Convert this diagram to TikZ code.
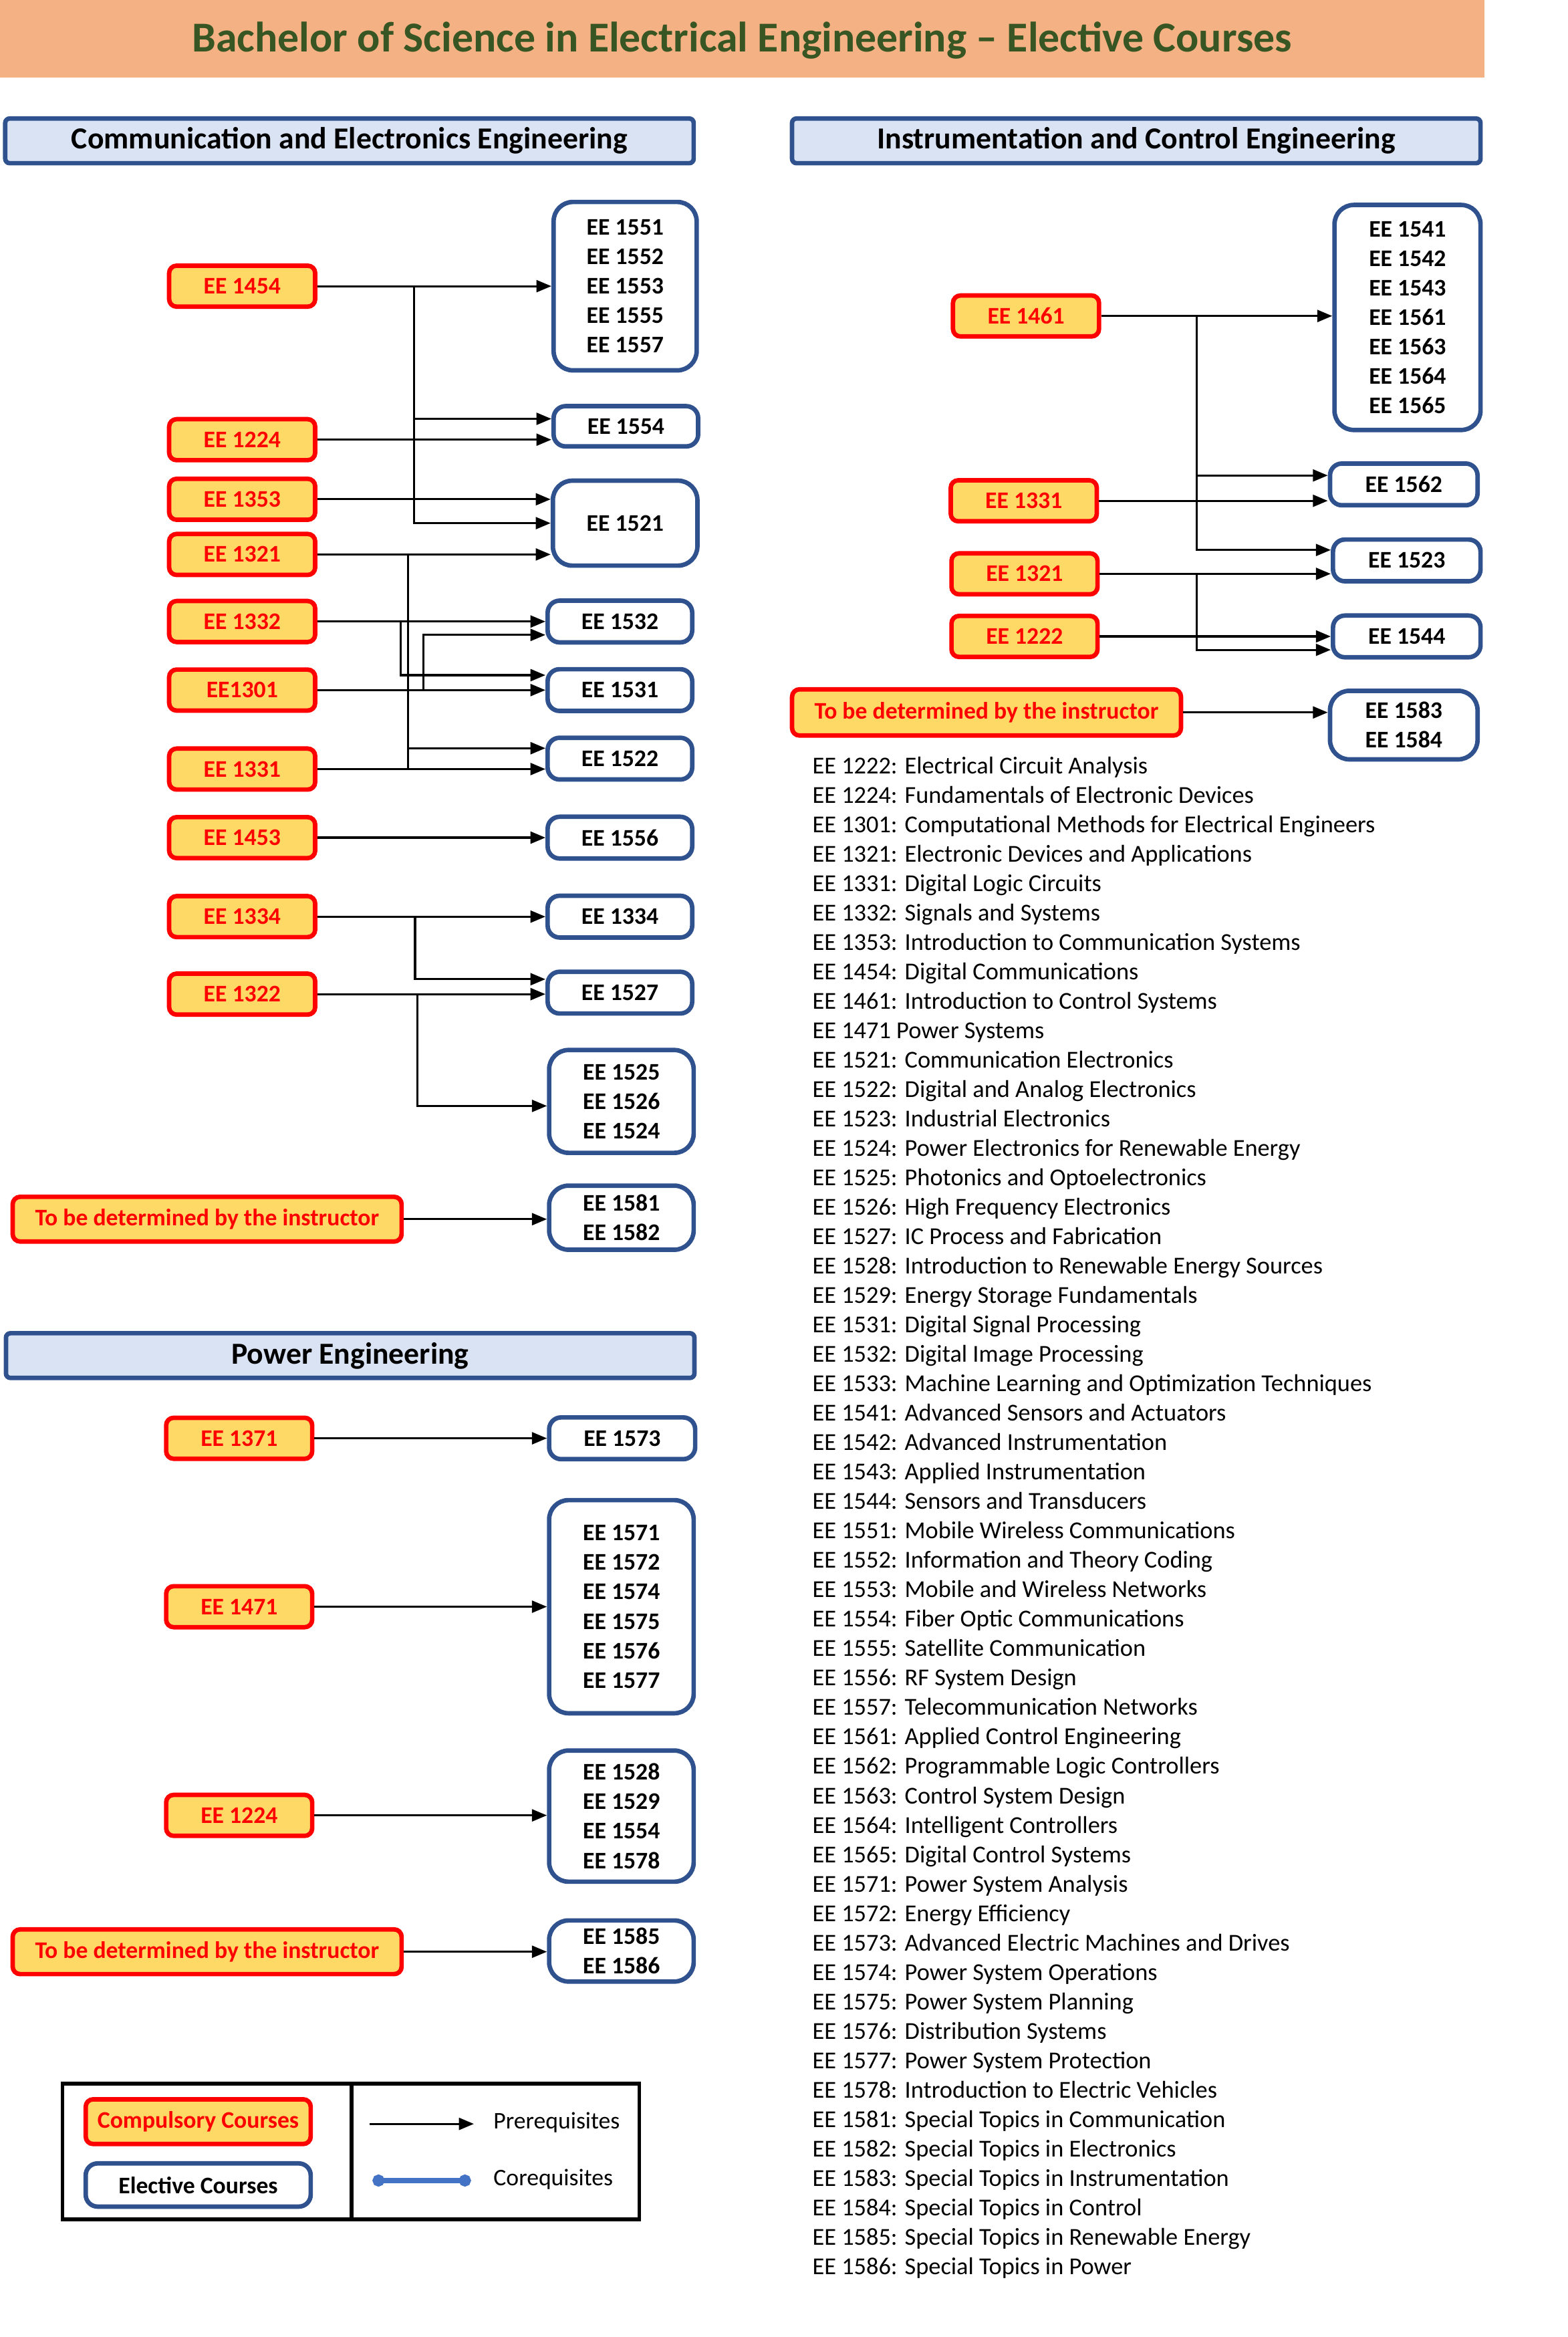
\documentclass[tikz,border=0pt]{standalone}
\usepackage{fontspec}
\setmainfont{Carlito}
\usetikzlibrary{arrows.meta,calc}
\definecolor{titlefill}{HTML}{F4B183}
\definecolor{titletext}{HTML}{375623}
\definecolor{hdrfill}{HTML}{DAE3F3}
\definecolor{navy}{HTML}{2F528F}
\definecolor{compfill}{HTML}{FFD966}
\definecolor{coreq}{HTML}{4472C4}
\tikzset{
  comp/.style={draw=red, fill=compfill, line width=3pt, rounded corners=5pt, text=red,
    font=\bfseries\fontsize{16}{19.745}\selectfont, minimum width=98pt, minimum height=27.5pt, inner sep=0pt},
  elec/.style={draw=navy, fill=white, line width=3pt, rounded corners=8pt,
    font=\bfseries\fontsize{16}{19.745}\selectfont, minimum width=97pt, minimum height=28pt, inner sep=0pt, align=center},
  bigelec/.style={elec, rounded corners=13pt},
  hdr/.style={draw=navy, fill=hdrfill, line width=3pt, rounded corners=3pt,
    font=\bfseries\fontsize{20.5}{24}\selectfont, minimum width=462pt, minimum height=30pt, inner sep=0pt},
  arr/.style={-{Triangle[length=10pt,width=8pt]}, line width=1.4pt},
  listtxt/.style={font=\fontsize{16.3}{19.745}\selectfont, anchor=base west, inner sep=0pt},
  legtxt/.style={font=\fontsize{16}{19}\selectfont, anchor=west, inner sep=0pt},
}
\begin{document}
\begin{tikzpicture}[x=1pt,y=-1pt]
\useasboundingbox (0,0) rectangle (1052.2,1568);
% title
\fill[titlefill] (0,0) rectangle (996,52);
\node[font=\bfseries\fontsize{28.6}{32}\selectfont, text=titletext, inner sep=0pt] (title) at (498,27)
  {Bachelor of Science in Electrical Engineering -- Elective Courses};
% headers
\node[hdr] (hCEE) at (234.5,94.5) {Communication and Electronics Engineering};
\node[hdr] (hICE) at (762.5,94.5) {Instrumentation and Control Engineering};
\node[hdr] (hPow) at (235,909.5) {Power Engineering};

% ---------------- CEE ----------------
\node[comp] (c1454) at (162.5,192) {EE 1454};
\node[comp] (c1224) at (162.5,295) {EE 1224};
\node[comp] (c1353) at (162.5,335) {EE 1353};
\node[comp] (c1321) at (162.5,372) {EE 1321};
\node[comp] (c1332) at (162.5,417) {EE 1332};
\node[comp] (c1301) at (162.5,463) {EE1301};
\node[comp] (c1331) at (162.5,516) {EE 1331};
\node[comp] (c1453) at (162.5,562) {EE 1453};
\node[comp] (c1334) at (162.5,615) {EE 1334};
\node[comp] (c1322) at (162.5,667) {EE 1322};
\node[comp, minimum width=261pt, minimum height=30pt] (ctbd) at (139,818) {To be determined by the instructor};

\node[bigelec, minimum width=96pt, minimum height=113pt] (e155x) at (419.5,192)
  {EE 1551\\EE 1552\\EE 1553\\EE 1555\\EE 1557};
\node[elec, minimum height=27pt] (e1554) at (420,286) {EE 1554};
\node[bigelec, minimum height=57pt] (e1521) at (419.5,351) {EE 1521};
\node[elec] (e1532) at (416,417) {EE 1532};
\node[elec] (e1531) at (416,463) {EE 1531};
\node[elec] (e1522) at (416,509) {EE 1522};
\node[elec] (e1556) at (416,562) {EE 1556};
\node[elec] (e1334) at (416,615) {EE 1334};
\node[elec] (e1527) at (416,666) {EE 1527};
\node[bigelec, minimum height=69pt] (e1525) at (417,739) {EE 1525\\EE 1526\\EE 1524};
\node[bigelec, minimum height=43pt] (e1581) at (417,817) {EE 1581\\EE 1582};

\coordinate (j1) at (278,192);
\coordinate (j2) at (274,372);
\coordinate (j3) at (269,417);
\coordinate (j4) at (284,463);
\coordinate (j5) at (278.5,615);
\coordinate (j6) at (280,667);

\draw[arr] (c1454.east) -- (c1454.east -| e155x.west);
\draw[arr] (j1) |- ($(e1554.west)+(0,-5)$);
\draw[arr] (j1) |- (e1521.west);
\draw[arr] (c1224.east) -- ($(e1554.west)+(0,9)$);
\draw[arr] (c1353.east) -- ($(e1521.west)+(0,-16)$);
\draw[arr] (c1321.east) -- ($(e1521.west)+(0,21)$);
\draw[line width=1.4pt] (j2) -- (j2 |- c1331.east);
\draw[arr] (j2) |- ($(e1522.west)+(0,-7)$);
\draw[arr] (c1331.east) -- ($(e1522.west)+(0,7)$);
\draw[arr] (c1332.east) -- (c1332.east -| e1532.west);
\draw[arr] (j3) |- ($(e1531.west)+(0,-10)$);
\draw[arr] (c1301.east) -- (c1301.east -| e1531.west);
\draw[arr] (j4) |- ($(e1532.west)+(0,9)$);
\draw[arr] (c1453.east) -- (c1453.east -| e1556.west);
\draw[arr] (c1334.east) -- (c1334.east -| e1334.west);
\draw[arr] (j5) |- ($(e1527.west)+(0,-9)$);
\draw[arr] (c1322.east) -- (c1322.east -| e1527.west);
\draw[arr] (j6) |- ($(e1525.west)+(0,3)$);
\draw[arr] (ctbd.east) -- (ctbd.east -| e1581.west);

% ---------------- ICE ----------------
\node[comp] (i1461) at (688.5,212) {EE 1461};
\node[comp] (i1331) at (687,336) {EE 1331};
\node[comp] (i1321) at (687.5,385) {EE 1321};
\node[comp] (i1222) at (687.5,427) {EE 1222};
\node[comp, minimum width=261pt, minimum height=31pt] (itbd) at (662,478) {To be determined by the instructor};

\node[bigelec, minimum width=98pt, minimum height=151pt] (f1541) at (944.5,213)
  {EE 1541\\EE 1542\\EE 1543\\EE 1561\\EE 1563\\EE 1564\\EE 1565};
\node[elec, minimum width=99pt] (f1562) at (942,325) {EE 1562};
\node[elec, minimum width=99pt] (f1523) at (944,376) {EE 1523};
\node[elec, minimum width=99pt] (f1544) at (944,427) {EE 1544};
\node[bigelec, minimum width=99pt, minimum height=46pt] (f1583) at (942,486.5) {EE 1583\\EE 1584};

\coordinate (k1) at (803,212);
\coordinate (k2) at (803,385);
\draw[arr] (i1461.east) -- (i1461.east -| f1541.west);
\draw[arr] (k1) |- ($(f1562.west)+(0,-6)$);
\draw[arr] (k1) |- ($(f1523.west)+(0,-7)$);
\draw[arr] (i1331.east) -- ($(f1562.west)+(0,11)$);
\draw[arr] (i1321.east) -- ($(f1523.west)+(0,9)$);
\draw[arr] (k2) |- ($(f1544.west)+(0,9)$);
\draw[arr] (i1222.east) -- (i1222.east -| f1544.west);
\draw[arr] (itbd.east) -- (itbd.east -| f1583.west);

% ---------------- Power ----------------
\node[comp] (p1371) at (160.5,965) {EE 1371};
\node[comp] (p1471) at (160.5,1078) {EE 1471};
\node[comp] (p1224) at (160.5,1218) {EE 1224};
\node[comp, minimum width=261pt, minimum height=30pt] (ptbd) at (139,1309.5) {To be determined by the instructor};

\node[elec, minimum width=98pt] (g1573) at (417.5,965) {EE 1573};
\node[bigelec, minimum height=143pt] (g1571) at (417,1078)
  {EE 1571\\EE 1572\\EE 1574\\EE 1575\\EE 1576\\EE 1577};
\node[bigelec, minimum height=88pt] (g1528) at (417,1218.5) {EE 1528\\EE 1529\\EE 1554\\EE 1578};
\node[bigelec, minimum height=41pt] (g1585) at (417,1309) {EE 1585\\EE 1586};

\draw[arr] (p1371.east) -- (p1371.east -| g1573.west);
\draw[arr] (p1471.east) -- (p1471.east -| g1571.west);
\draw[arr] (p1224.east) -- (p1224.east -| g1528.west);
\draw[arr] (ptbd.east) -- (ptbd.east -| g1585.west);

% ---------------- Legend ----------------
\draw[line width=2.5pt] (42,1398) rectangle (429,1489);
\draw[line width=2.5pt] (236,1398) -- (236,1489);
\node[comp, minimum width=151pt, minimum height=30pt] (lcomp) at (133,1423.5) {Compulsory Courses};
\node[elec, minimum width=151pt, minimum height=29pt, text=black] (lelec) at (133,1466) {Elective Courses};
\coordinate (la1) at (248,1425);
\coordinate (la2) at (318,1425);
\draw[arr] (la1) -- (la2);
\node[legtxt] (lpre) at (331,1424) {Prerequisites};
\coordinate (lc1) at (250,1463);
\coordinate (lc2) at (316,1463);
\draw[coreq, line width=3.5pt, {Circle[length=8pt,width=8pt]}-{Circle[length=8pt,width=8pt]}] (lc1) -- (lc2);
\node[legtxt] (lco) at (331,1462) {Corequisites};

% ---------------- Course list ----------------
\foreach \t [count=\i] in {
EE 1222: Electrical Circuit Analysis,
EE 1224: Fundamentals of Electronic Devices,
EE 1301: Computational Methods for Electrical Engineers,
EE 1321: Electronic Devices and Applications,
EE 1331: Digital Logic Circuits,
EE 1332: Signals and Systems,
EE 1353: Introduction to Communication Systems,
EE 1454: Digital Communications,
EE 1461: Introduction to Control Systems,
EE 1471 Power Systems,
EE 1521: Communication Electronics,
EE 1522: Digital and Analog Electronics,
EE 1523: Industrial Electronics,
EE 1524: Power Electronics for Renewable Energy,
EE 1525: Photonics and Optoelectronics,
EE 1526: High Frequency Electronics,
EE 1527: IC Process and Fabrication,
EE 1528: Introduction to Renewable Energy Sources,
EE 1529: Energy Storage Fundamentals,
EE 1531: Digital Signal Processing,
EE 1532: Digital Image Processing,
EE 1533: Machine Learning and Optimization Techniques,
EE 1541: Advanced Sensors and Actuators,
EE 1542: Advanced Instrumentation,
EE 1543: Applied Instrumentation,
EE 1544: Sensors and Transducers,
EE 1551: Mobile Wireless Communications,
EE 1552: Information and Theory Coding,
EE 1553: Mobile and Wireless Networks,
EE 1554: Fiber Optic Communications,
EE 1555: Satellite Communication,
EE 1556: RF System Design,
EE 1557: Telecommunication Networks,
EE 1561: Applied Control Engineering,
EE 1562: Programmable Logic Controllers,
EE 1563: Control System Design,
EE 1564: Intelligent Controllers,
EE 1565: Digital Control Systems,
EE 1571: Power System Analysis,
EE 1572: Energy Efficiency,
EE 1573: Advanced Electric Machines and Drives,
EE 1574: Power System Operations,
EE 1575: Power System Planning,
EE 1576: Distribution Systems,
EE 1577: Power System Protection,
EE 1578: Introduction to Electric Vehicles,
EE 1581: Special Topics in Communication,
EE 1582: Special Topics in Electronics,
EE 1583: Special Topics in Instrumentation,
EE 1584: Special Topics in Control,
EE 1585: Special Topics in Renewable Energy,
EE 1586: Special Topics in Power}
{\node[listtxt] (d\i) at (545,{519+19.745*(\i-1)}) {\t};}
\end{tikzpicture}
\end{document}
